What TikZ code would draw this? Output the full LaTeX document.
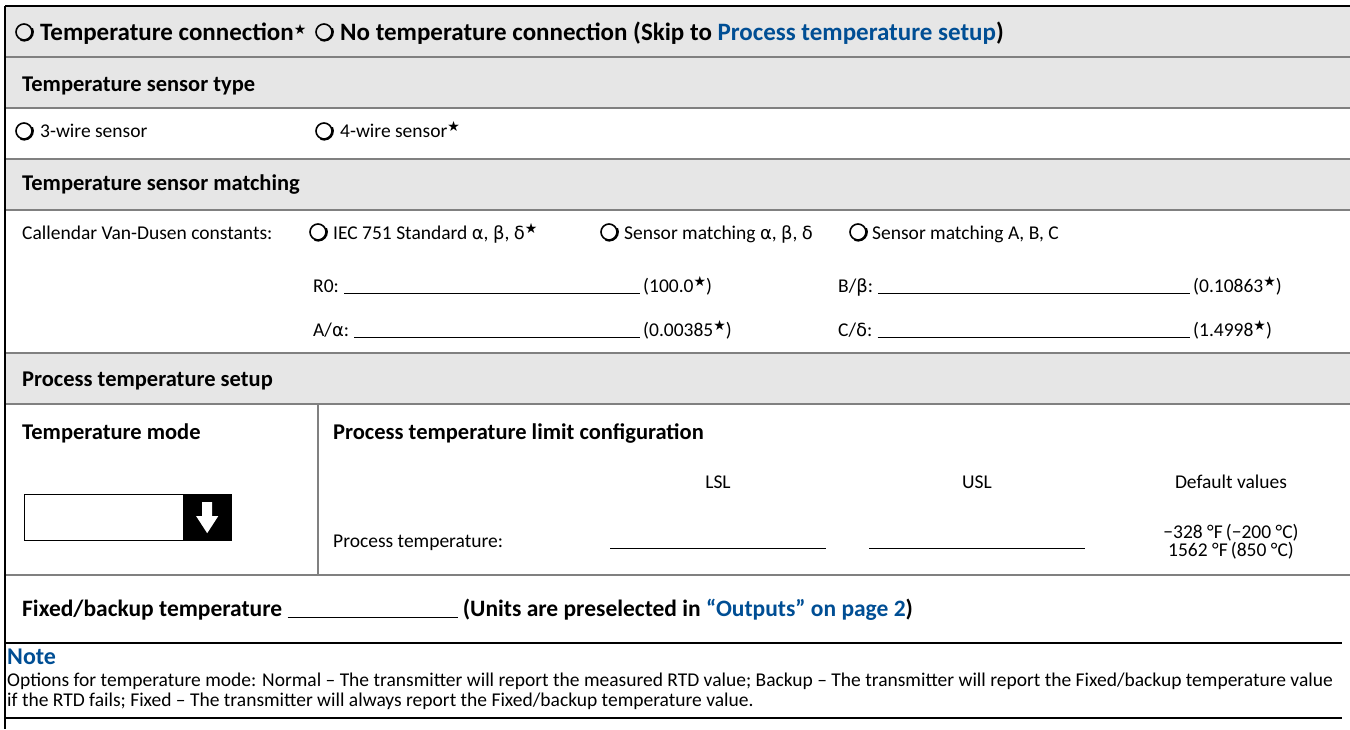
\documentclass[tikz,border=0pt]{standalone}
\usepackage{fontspec}
\setmainfont{Carlito}
\newfontfamily\dingfont{DejaVu Sans}

\definecolor{formgray}{RGB}{230,230,230}
\definecolor{rulegray}{RGB}{128,128,128}
\definecolor{linkblue}{RGB}{0,78,148}

\newcommand{\dstar}{\raisebox{6pt}{\dingfont\fontsize{14}{14}\selectfont ★}}
\newcommand{\gk}[1]{{\dingfont\fontsize{18}{20}\selectfont #1}}
\newcommand{\blank}[1]{\rule[-2pt]{#1}{1pt}}
\newcommand{\radiobtn}[2]{%
    \node[radio] (#1) at (#2) {};
    \draw[line width = 2.2pt] (#1.25) arc[start angle = 25, end angle = -115, radius = 8.6pt];}

\tikzset{
    hdr/.style = {anchor = base west, inner sep = 0, font = \fontsize{22.5}{26}\selectfont\bfseries},
    txt/.style = {anchor = base west, inner sep = 0, font = \fontsize{19.5}{20}\selectfont},
    radio/.style = {circle, draw, line width = 1.6pt, minimum size = 16pt, inner sep = 0},
    sep/.style = {rulegray, line width = 2pt},
    bar/.style = {black, line width = 2.5pt},
    fillin/.style = {line width = 1pt},
}

\begin{document}
\begin{tikzpicture}[x = 1pt, y = -1pt]
    \useasboundingbox (0,0) rectangle (1350,729);
    \fill[formgray]
        (5,6) rectangle (1350,108)
        (5,159) rectangle (1350,210)
        (5,353) rectangle (1350,404);
    \draw[sep]
        (5,57) -- (1350,57) (5,108) -- (1350,108) (5,159) -- (1350,159)
        (5,210) -- (1350,210) (5,353) -- (1350,353) (5,404) -- (1350,404)
        (5,575) -- (1350,575) (318,404) -- (318,575);
    \draw[bar] (5,6) -- (1350,6) (5,6) -- (5,729) (5,643) -- (1342,643) (5,718) -- (1342,718);

    \radiobtn{RC1}{24,32}
    \node[hdr, font = \fontsize{25}{26}\selectfont\bfseries] (CONN) at (40,40) {Temperature connection\dstar};
    \radiobtn{RC2}{324,32}
    \node[hdr, font = \fontsize{25}{26}\selectfont\bfseries] (NOCONN) at (340,40) {No temperature connection (Skip to \textcolor{linkblue}{Process temperature setup})};

    \node[hdr] (TYPE) at (22,91) {Temperature sensor type};
    \radiobtn{RW3}{24,131}
    \node[txt] (W3) at (40,137) {3-wire sensor};
    \radiobtn{RW4}{324,131}
    \node[txt] (W4) at (340,137) {4-wire sensor\dstar};

    \node[hdr] (MATCH) at (22,190) {Temperature sensor matching};
    \node[txt] (CVD) at (22,239) {Callendar Van-Dusen constants:};
    \radiobtn{RIEC}{318,232}
    \node[txt] (IEC) at (333,239) {IEC 751 Standard \gk{α}, \gk{β}, \gk{δ}\dstar};
    \radiobtn{RABD}{609,232}
    \node[txt] (ABD) at (624,239) {Sensor matching \gk{α}, \gk{β}, \gk{δ}};
    \radiobtn{RABC}{858,232}
    \node[txt] (ABC) at (872,239) {Sensor matching A, B, C};

    \node[txt] (R0L) at (313,292) {R0:};
    \node[txt] (R0V) at (643,292) {(100.0\dstar)};
    \node[txt] (AL) at (313,336) {A/\gk{α}:};
    \node[txt] (AV) at (643,336) {(0.00385\dstar)};
    \node[txt] (BL) at (838,292) {B/\gk{β}:};
    \node[txt] (BV) at (1193,292) {(0.10863\dstar)};
    \node[txt] (CL) at (838,336) {C/\gk{δ}:};
    \node[txt] (CV) at (1193,336) {(1.4998\dstar)};
    \foreach \lbl/\val in {R0L/R0V, AL/AV, BL/BV, CL/CV}
        \draw[fillin] ([xshift = 5pt, yshift = -1.5pt]\lbl.base east) -- ([xshift = -3pt, yshift = -1.5pt]\val.base west);

    \node[hdr] (SETUP) at (22,386) {Process temperature setup};
    \node[hdr] (MODEHDR) at (22,439) {Temperature mode};
    \node[draw, minimum width = 207pt, minimum height = 46pt, anchor = north west] (MODE) at (24,494) {};
    \node[fill, minimum width = 48pt, minimum height = 46pt, anchor = east] (MODEBTN) at (MODE.east) {};
    \draw[line width = 1.5pt] (MODE.south west) -- (MODE.south east);
    \fill[white] ([shift = {(-5pt,15pt)}]MODEBTN.center) -- ++(10pt,0) -- ++(0,-14pt) -- ++(6pt,0)
        -- ([yshift = -16pt]MODEBTN.center) -- ([shift = {(-11pt,1pt)}]MODEBTN.center) -- ++(6pt,0) -- cycle;

    \node[hdr] (LIMITS) at (333,439) {Process temperature limit configuration};
    \node[txt, anchor = base] (LSL) at (718,488) {LSL};
    \node[txt, anchor = base] (USL) at (977,488) {USL};
    \node[txt, anchor = base] (DEFAULT) at (1231,488) {Default values};
    \node[txt] (PTEMP) at (333,547) {Process temperature:};
    \node[txt, anchor = base] (LSLB) at (LSL |- PTEMP.base) {\blank{216pt}};
    \node[txt, anchor = base] (USLB) at (USL |- PTEMP.base) {\blank{216pt}};
    \node[txt, anchor = center, align = center, font = \fontsize{19.5}{18}\selectfont] (DEFVAL) at (1231,542)
        {−328 °F\,(−200 °C)\\1562 °F\,(850 °C)};

    \node[hdr, font = \fontsize{23.5}{26}\selectfont\bfseries] (FIXED) at (22,616) {Fixed/backup temperature \blank{170pt} (Units are preselected in \textcolor{linkblue}{“Outputs” on page 2})};

    \node[hdr, text = linkblue, font = \fontsize{24}{26}\selectfont\bfseries] (NOTE) at (7,664) {Note};
    \node[txt, anchor = north west, align = left, font = \fontsize{19.5}{20}\selectfont] (NOTETXT) at (7,673)
        {Options for temperature mode: Normal – The transmitter will report the measured RTD value; Backup – The transmitter will report the Fixed/backup temperature value\\
         if the RTD fails; Fixed – The transmitter will always report the Fixed/backup temperature value.};
\end{tikzpicture}
\end{document}
